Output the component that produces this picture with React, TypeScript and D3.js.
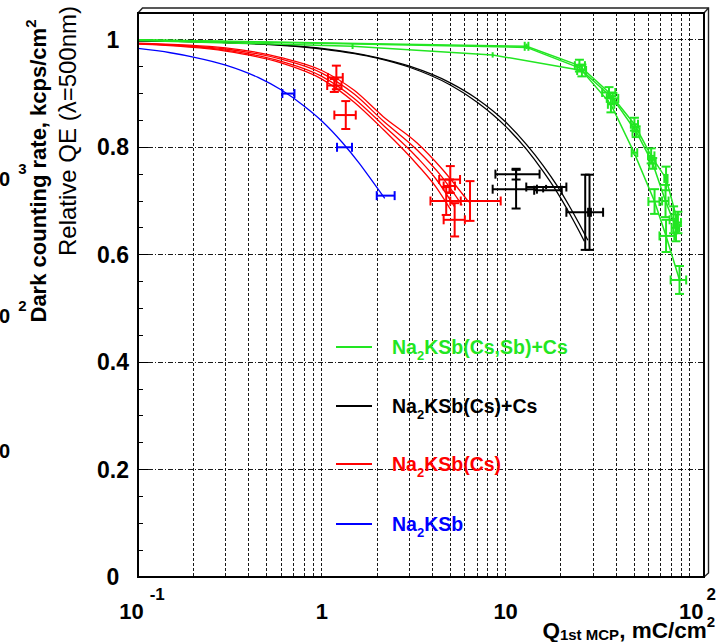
import React from "react";
import * as d3 from "d3";

// ---------- data ----------
// fit curves: [Q (mC/cm2), relative QE]
const blueCurve = [
  [0.1, 0.984], [0.15, 0.976], [0.2, 0.968], [0.3, 0.953], [0.45, 0.93], [0.6, 0.907],
  [0.8, 0.877], [1.0, 0.849], [1.3, 0.808], [1.6, 0.77], [1.9, 0.735], [2.2, 0.705],
];
const redCurveA = [
  [0.1, 0.992], [0.3, 0.979], [0.6, 0.957], [1.0, 0.927], [1.5, 0.884], [2.16, 0.833], [3.3, 0.768],
  [4.2, 0.725], [5.0, 0.685],
];
const redCurveB = [
  [0.1, 0.993], [0.3, 0.981], [0.6, 0.96], [1.0, 0.932], [1.5, 0.891], [2.16, 0.841], [3.3, 0.781],
  [4.2, 0.74], [5.3, 0.688],
];
const redCurveC = [
  [0.1, 0.993], [0.3, 0.983], [0.6, 0.964], [1.0, 0.938], [1.5, 0.899], [2.16, 0.849], [3.3, 0.795],
  [4.5, 0.745], [5.8, 0.692],
];
const redCurveD = [
  [0.1, 0.994], [0.3, 0.985], [0.6, 0.967], [1.0, 0.943], [1.5, 0.906], [2.16, 0.857], [3.3, 0.808],
  [4.5, 0.76], [6.3, 0.698],
];
const blackCurveA = [
  [0.1, 0.998], [0.3, 0.995], [1, 0.983], [2, 0.966], [3, 0.949], [5, 0.916], [7, 0.884], [10, 0.839],
  [13, 0.796], [16, 0.755], [19, 0.717], [22, 0.68], [25, 0.645], [26.8, 0.625],
];
const blackCurveB = [
  [0.1, 0.998], [0.3, 0.995], [1, 0.984], [2, 0.967], [3, 0.951], [5, 0.92], [7, 0.89], [10, 0.847],
  [13, 0.805], [16, 0.766], [19, 0.729], [22, 0.693], [25, 0.659], [28, 0.627],
];
// green points joined by straight segments
const greenLine1 = [
  [0.1, 1.0], [13, 0.988], [25.2, 0.952], [36.5, 0.902], [50.2, 0.843], [61.9, 0.784], [74.6, 0.742], [86.5, 0.66],
];
const greenLine2 = [
  [0.1, 0.999], [1.47, 0.988], [8.5, 0.972], [26.0, 0.943], [38.3, 0.891], [51.3, 0.829], [63.1, 0.77],
  [74.1, 0.7], [84.5, 0.65],
];
const greenLine3 = [
  [0.1, 1.0], [13, 0.986], [25.2, 0.948], [37.4, 0.88], [50, 0.79], [64.6, 0.699], [74.6, 0.635], [88.3, 0.553],
];

// measured points: [Q, QE, Q low, Q high, QE error]
const bluePoints = [
  [0.65, 0.9, 0.61, 0.71, 0], [1.33, 0.8, 1.21, 1.46, 0], [2.23, 0.71, 1.99, 2.49, 0],
];
const redPoints = [
  [1.2, 0.93, 1.08, 1.3, 0.022], [1.17, 0.915, 1.07, 1.28, 0.012], [1.35, 0.86, 1.17, 1.53, 0.026],
  [5.0, 0.74, 4.35, 5.65, 0.025], [4.95, 0.728, 4.6, 5.3, 0.012], [4.75, 0.7, 3.9, 5.7, 0.026],
  [5.28, 0.665, 4.6, 6.0, 0.031], [6.4, 0.7, 5.0, 9.4, 0.037],
];
const blackPoints = [
  [11.4, 0.75, 8.8, 15.3, 0.01], [11.4, 0.722, 8.5, 14.8, 0.036], [16.6, 0.726, 12.95, 21.4, 0.004],
  [16.0, 0.72, 14.3, 20.2, 0.004], [27.1, 0.679, 21.4, 33.9, 0.07], [28.6, 0.679, 28.1, 29.1, 0.07],
];
const greenPoints = [
  [1.47, 0.988, 1.47, 1.47, 0.005], [8.5, 0.972, 8.5, 8.5, 0.005], [13, 0.988, 12.7, 13.3, 0.005],
  [25.2, 0.952, 23.8, 27.0, 0.011], [26.0, 0.943, 24.5, 27.4, 0.011], [36.5, 0.902, 33.5, 39.5, 0.01],
  [38.3, 0.891, 35.5, 41.0, 0.01], [37.4, 0.88, 36, 39, 0.015], [50.2, 0.843, 48, 52.5, 0.012],
  [51.3, 0.829, 49, 53.5, 0.01], [50, 0.79, 48.5, 52, 0.004], [61.9, 0.784, 59.5, 64.5, 0.014],
  [63.1, 0.77, 60.5, 65.5, 0.01], [74.6, 0.742, 73, 76, 0.022], [64.6, 0.699, 59.8, 68.7, 0.023],
  [74.1, 0.7, 71, 77, 0.03], [74.6, 0.635, 68.7, 82.7, 0.03], [82, 0.665, 78, 86, 0.025],
  [84.5, 0.65, 80, 88, 0.025], [86.5, 0.66, 83, 90, 0.02], [88.3, 0.553, 79, 96, 0.026],
];

const yTickValues = [0, 0.2, 0.4, 0.6, 0.8, 1];
const yTickLabels = ["0", "0.2", "0.4", "0.6", "0.8", "1"];
const xTickValues = [0.1, 1, 10, 100];
const xTickBase = ["10", "1", "10", "10"];
const xTickExp = ["-1", "", "", "2"];

const legendLabels = ["Na|2|KSb(Cs,Sb)+Cs", "Na|2|KSb(Cs)+Cs", "Na|2|KSb(Cs)", "Na|2|KSb"];
const GREEN = "#22e622";
const BLACK = "#000000";
const RED = "#ff0000";
const BLUE = "#0000ff";
const legendColors = [GREEN, BLACK, RED, BLUE];

const leftCropBase = ["0", "0", "0"];
const leftCropExp = ["3", "2", ""];

const FONT = "'Liberation Sans', Arial, Helvetica, sans-serif";

export default function App() {
  const x = d3.scaleLog().domain([0.1, 120]).range([138, 704]);
  const y = d3.scaleLinear().domain([0, 1.05]).range([577, 13]);
  const smooth = d3.line<number[]>().x(d => x(d[0])).y(d => y(d[1])).curve(d3.curveMonotoneX);
  const straight = d3.line<number[]>().x(d => x(d[0])).y(d => y(d[1]));

  const gridX = x.ticks().filter(v => v > 0.1001 && v <= 100.01);
  const minorY = d3.range(0, 21).map(i => i * 0.05);

  const errBars = (pts: number[][], color: string, key: string, sw: number) =>
    pts.map((p, i) => {
      const [q, v, lo, hi, dv] = p;
      const cx = x(q), cy = y(v);
      const cap = 4.5;
      const els: any[] = [];
      if (hi > lo) {
        const x0 = x(lo), x1 = x(hi);
        els.push(<line key="h" x1={x0} x2={x1} y1={cy} y2={cy} />);
        els.push(<line key="c1" x1={x0} x2={x0} y1={cy - cap} y2={cy + cap} />);
        els.push(<line key="c2" x1={x1} x2={x1} y1={cy - cap} y2={cy + cap} />);
      }
      if (dv > 0) {
        const y0 = y(v - dv), y1 = y(v + dv);
        els.push(<line key="v" x1={cx} x2={cx} y1={y0} y2={y1} />);
        if (dv > 0.007) {
          els.push(<line key="c3" x1={cx - cap} x2={cx + cap} y1={y0} y2={y0} />);
          els.push(<line key="c4" x1={cx - cap} x2={cx + cap} y1={y1} y2={y1} />);
        }
      }
      return (
        <g key={key + i} stroke={color} strokeWidth={sw} fill="none">
          {els}
        </g>
      );
    });

  return (
    <svg width={719} height={642} style={{ position: "absolute", left: 0, top: 0, background: "#fff" }}
      fontFamily={FONT}>
      <rect x={0} y={0} width={719} height={642} fill="#fff" />
      <defs>
        <clipPath id="plotclip">
          <rect x={138} y={13} width={566} height={564} />
        </clipPath>
      </defs>

      {/* grid */}
      <g stroke="#000" strokeWidth={0.9} shapeRendering="crispEdges">
        {gridX.map((v, i) => (
          <line key={"gx" + i} x1={x(v)} x2={x(v)} y1={13} y2={577} strokeDasharray="3,2" />
        ))}
        {yTickValues.filter(v => v > 0).map((v, i) => (
          <line key={"gy" + i} x1={138} x2={704} y1={y(v)} y2={y(v)} strokeDasharray="5,2,1,2" />
        ))}
      </g>

      {/* y minor ticks */}
      <g stroke="#000" strokeWidth={1} shapeRendering="crispEdges">
        {minorY.map((v, i) => (
          <line key={"ty" + i} x1={138} x2={138 + (i % 4 === 0 ? 10 : 5)} y1={y(v)} y2={y(v)} />
        ))}
      </g>

      {/* curves and points */}
      <g clipPath="url(#plotclip)" fill="none">
        <path d={smooth(blueCurve) || ""} stroke={BLUE} strokeWidth={1.3} />
        {[redCurveA, redCurveB, redCurveC, redCurveD].map((c, i) => (
          <path key={"rc" + i} d={smooth(c) || ""} stroke={RED} strokeWidth={1.3} />
        ))}
        {[blackCurveA, blackCurveB].map((c, i) => (
          <path key={"bc" + i} d={smooth(c) || ""} stroke={BLACK} strokeWidth={1.3} />
        ))}
        {[greenLine1, greenLine2, greenLine3].map((c, i) => (
          <path key={"gl" + i} d={straight(c) || ""} stroke={GREEN} strokeWidth={1.5} />
        ))}
        {errBars(bluePoints, BLUE, "bp", 2)}
        {errBars(redPoints, RED, "rp", 2)}
        {errBars(blackPoints, BLACK, "kp", 2)}
        {errBars(greenPoints, GREEN, "gp", 2)}
      </g>

      {/* frame with 3D border */}
      <g fill="none" stroke="#000">
        <polyline points="138,13 142.5,8 708.5,8 708.5,573 704,577" strokeWidth={1.4} stroke="#222" />
        <line x1={704} y1={13} x2={708.5} y2={8} strokeWidth={1.4} stroke="#222" />
        <rect x={138} y={13} width={566} height={564} strokeWidth={2} />
      </g>

      {/* y tick labels */}
      <g fontSize={23} fontWeight="bold" textAnchor="middle" fill="#000">
        {yTickValues.map((v, i) => (
          <text key={"yl" + i} x={113} y={y(v) + 8}>{yTickLabels[i]}</text>
        ))}
      </g>

      {/* x tick labels */}
      <g fontSize={22} fontWeight="bold" textAnchor="middle" fill="#000">
        {xTickValues.map((v, i) => (
          <text key={"xl" + i} x={x(v) + (xTickExp[i] ? (i === 0 ? 4 : 8) : 0)} y={619}>
            {xTickBase[i]}
            {xTickExp[i] ? (
              <tspan dx={i === 0 ? 6 : 3} dy={-19} fontSize={17}>{xTickExp[i]}</tspan>
            ) : null}
          </text>
        ))}
      </g>

      {/* axis titles */}
      <text x={715} y={638} textAnchor="end" fontSize={22.5} fontWeight="bold" fill="#000">
        Q<tspan fontSize={15} dy={2}>1st MCP</tspan><tspan dy={-2}>, mC/cm</tspan>
        <tspan fontSize={15} dy={-11}>2</tspan>
      </text>
      <text transform="translate(76,131) rotate(-90)" textAnchor="middle" fontSize={24} fill="#000">
        Relative QE (λ=500nm)
      </text>
      <text transform="translate(46,171) rotate(-90)" textAnchor="middle" fontSize={22} fontWeight="bold" fill="#000">
        Dark counting rate, kcps/cm<tspan fontSize={15} dy={-10}>2</tspan>
      </text>

      {/* cropped labels of an underlying axis on the far left */}
      <g fontSize={20} fontWeight="bold" fill="#000">
        {leftCropBase.map((b, i) => (
          <text key={"lc" + i} x={-1} y={[186, 323, 458][i]}>
            {b}
            {leftCropExp[i] ? <tspan fontSize={15} dx={8} dy={-12}>{leftCropExp[i]}</tspan> : null}
          </text>
        ))}
      </g>

      {/* legend */}
      {legendLabels.map((lab, i) => {
        const ly = [347, 406, 464, 524][i];
        const parts = lab.split("|");
        return (
          <g key={"lg" + i}>
            <line x1={336} x2={372} y1={ly} y2={ly} stroke={legendColors[i]} strokeWidth={2} />
            <text x={392} y={ly + 7} fontSize={19.5} fontWeight="bold" fill={legendColors[i]}>
              {parts[0]}
              <tspan fontSize={13} dy={6}>{parts[1]}</tspan>
              <tspan dy={-6}>{parts[2]}</tspan>
            </text>
          </g>
        );
      })}
    </svg>
  );
}
